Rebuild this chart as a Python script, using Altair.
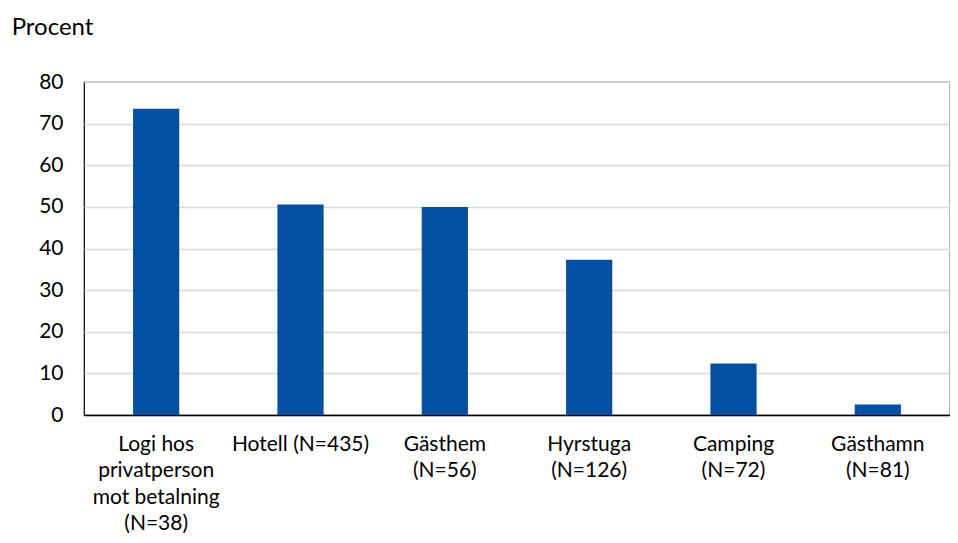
import altair as alt
import pandas as pd

categories = [
    "Logi hos|privatperson|mot betalning|(N=38)",
    "Hotell (N=435)",
    "Gästhem|(N=56)",
    "Hyrstuga|(N=126)",
    "Camping|(N=72)",
    "Gästhamn|(N=81)",
]
values = [73.6, 50.6, 50.0, 37.3, 12.4, 2.5]

df = pd.DataFrame({"kategori": categories, "procent": values})

FONT = "Lato"
FS = 21

chart = (
    alt.Chart(df)
    .mark_bar(color="#044FA2")
    .encode(
        x=alt.X(
            "kategori:N",
            sort=categories,
            title=None,
            scale=alt.Scale(paddingInner=0.68, paddingOuter=0.34),
            axis=alt.Axis(
                labelAngle=0,
                labelExpr="split(datum.label, '|')",
                labelFontSize=FS,
                labelFont=FONT,
                labelColor="#000000",
                labelLineHeight=26.5,
                labelPadding=18,
                labelBaseline="top",
                ticks=False,
                domainColor="#000000",
                domainWidth=1.5,
                grid=False,
                labelLimit=300,
            ),
        ),
        y=alt.Y(
            "procent:Q",
            title=None,
            scale=alt.Scale(domain=[0, 80], nice=False),
            axis=alt.Axis(
                values=[0, 10, 20, 30, 40, 50, 60, 70, 80],
                labelFontSize=FS,
                labelFont=FONT,
                labelColor="#000000",
                labelPadding=21,
                ticks=False,
                domain=False,
                gridColor="#d9d9d9",
                gridWidth=1.5,
            ),
        ),
    )
    .properties(
        width=866,
        height=333,
        autosize=alt.AutoSizeParams(type="none"),
        padding={"left": 76, "top": 74, "right": 0, "bottom": 120},
        title=alt.TitleParams(
            "Procent",
            anchor="start",
            frame="bounds",
            fontSize=24,
            font=FONT,
            fontWeight="normal",
            color="#000000",
            offset=31,
            dx=-27,
        ),
    )
    .configure_view(stroke="#000000", strokeWidth=1.2)
)

chart.save("out.html", embed_options={"renderer": "svg", "actions": False})
